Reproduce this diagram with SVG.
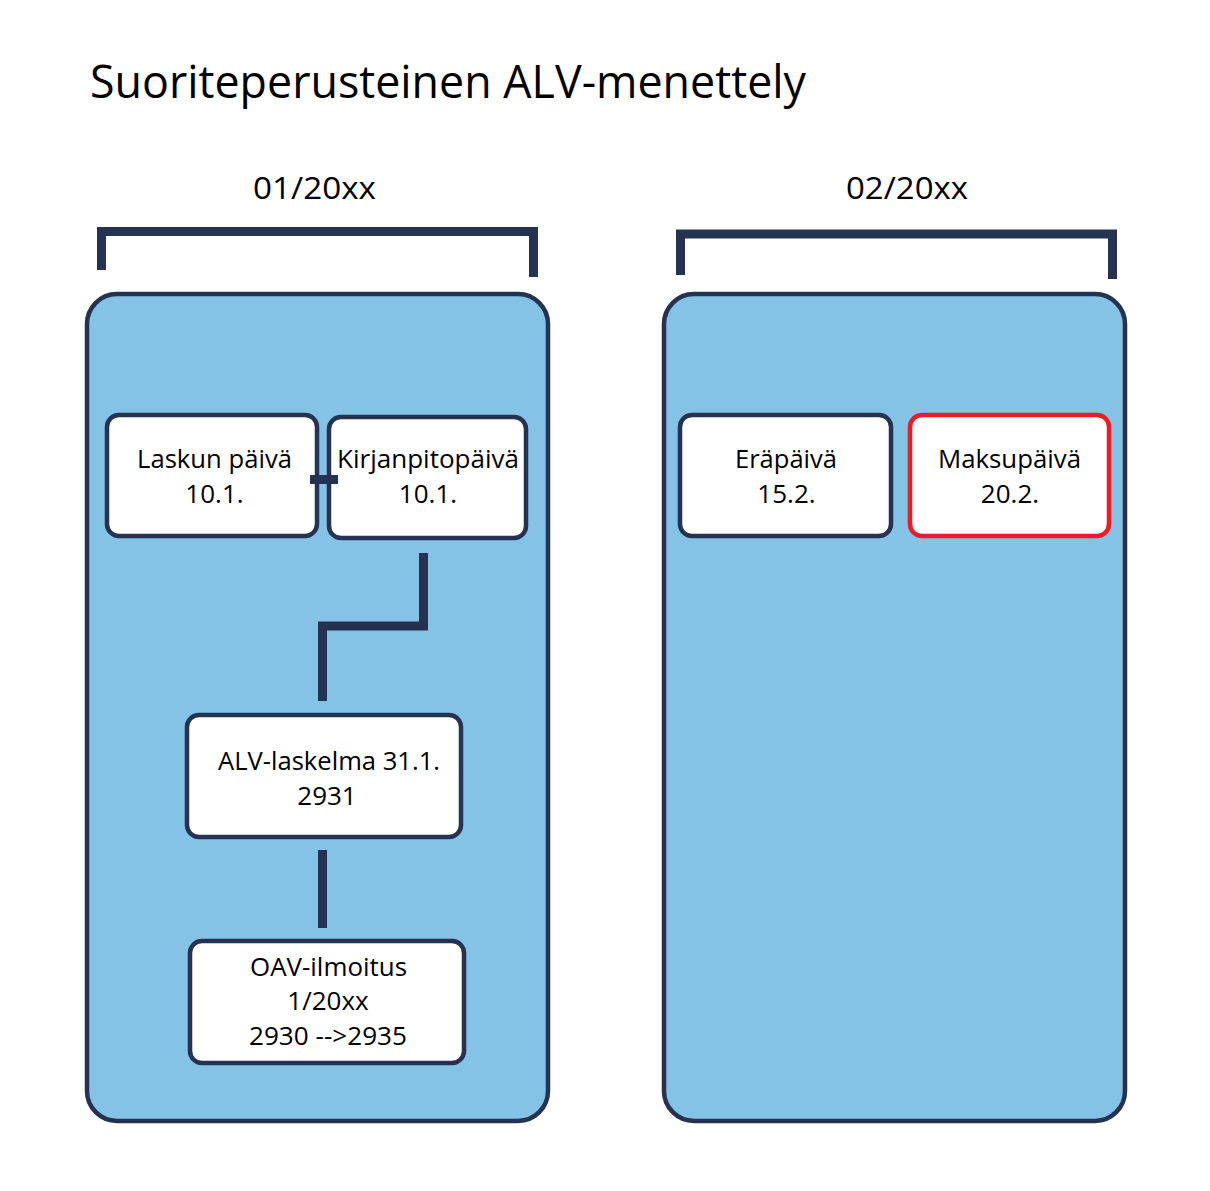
<svg xmlns="http://www.w3.org/2000/svg" width="1210" height="1191" viewBox="0 0 1210 1191">
<style>
text{font-family:"Open Sans","Noto Sans","Liberation Sans",sans-serif;fill:#000}
.t{font-size:26px;text-anchor:middle}
.panel{fill:#84c2e6;stroke:#263252;stroke-width:4.5}
.node{fill:#fff;stroke:#263252;stroke-width:4.5}
.red{stroke:#ed1c24}
.ln{fill:none;stroke:#263252;stroke-width:9;stroke-linecap:butt;stroke-linejoin:miter}
</style>
<rect width="1210" height="1191" fill="#fff"/>
<text x="90" y="98" font-size="46" textLength="716" lengthAdjust="spacingAndGlyphs">Suoriteperusteinen ALV-menettely</text>
<g id="brackets">
<text x="314.5" y="199" font-size="31" text-anchor="middle" textLength="123" lengthAdjust="spacingAndGlyphs">01/20xx</text>
<text x="907" y="199" font-size="31" text-anchor="middle" textLength="122" lengthAdjust="spacingAndGlyphs">02/20xx</text>
<path class="ln" d="M101.5 270 V231.5 H533.5 V277" stroke-width="10"/>
<path class="ln" d="M680.5 275 V234 H1112.5 V279" stroke-width="10"/>
</g>
<g id="panel1"><rect class="panel" x="87" y="294" width="461" height="827" rx="30"/></g>
<g id="panel2"><rect class="panel" x="664" y="294" width="461" height="827" rx="30"/></g>
<g id="laskun">
<rect class="node" x="107" y="415" width="210" height="121" rx="12"/>
<text class="t" x="214.5" y="468" textLength="155" lengthAdjust="spacingAndGlyphs">Laskun päivä</text>
<text class="t" x="214.5" y="503">10.1.</text>
</g>
<g id="kirjanpito">
<rect class="node" x="329" y="417" width="197" height="121" rx="12"/>
<text class="t" x="428" y="468" textLength="182" lengthAdjust="spacingAndGlyphs">Kirjanpitopäivä</text>
<text class="t" x="428" y="503">10.1.</text>
</g>
<g id="erapaiva">
<rect class="node" x="680" y="415" width="211" height="121" rx="12"/>
<text class="t" x="786" y="468" textLength="102" lengthAdjust="spacingAndGlyphs">Eräpäivä</text>
<text class="t" x="786.5" y="503">15.2.</text>
</g>
<g id="maksupaiva">
<rect class="node red" x="910" y="415" width="199" height="121" rx="12"/>
<text class="t" x="1009.5" y="468" textLength="143" lengthAdjust="spacingAndGlyphs">Maksupäivä</text>
<text class="t" x="1010" y="503">20.2.</text>
</g>
<g id="alv">
<rect class="node" x="187" y="715" width="274" height="122" rx="12"/>
<text class="t" x="329" y="770" textLength="222" lengthAdjust="spacingAndGlyphs">ALV-laskelma 31.1.</text>
<text class="t" x="327" y="805">2931</text>
</g>
<g id="oav">
<rect class="node" x="190" y="941" width="274" height="122" rx="12"/>
<text class="t" x="328.5" y="976" textLength="157" lengthAdjust="spacingAndGlyphs">OAV-ilmoitus</text>
<text class="t" x="328" y="1010">1/20xx</text>
<text class="t" x="328" y="1045" textLength="158" lengthAdjust="spacingAndGlyphs">2930 --&gt;2935</text>
</g>
<g id="connectors">
<path class="ln" d="M310 479.5 H338"/>
<path class="ln" d="M423.5 553 V626 H322.5 V701"/>
<path class="ln" d="M322.5 850 V928"/>
</g>
</svg>
